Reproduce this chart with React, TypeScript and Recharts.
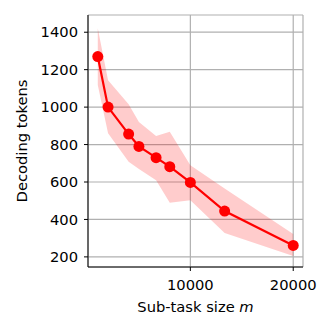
import { Area, CartesianGrid, ComposedChart, Line, XAxis, YAxis } from "recharts";

const subTaskSize = [1000, 2000, 4000, 5000, 6667, 8000, 10000, 13333, 20000];
const meanTokens = [1270, 1000, 856, 790, 730, 682, 598, 445, 261];
const lowTokens = [1118, 860, 708, 670, 610, 489, 503, 327, 205];
const highTokens = [1421, 1143, 1015, 920, 846, 868, 690, 565, 322];
const xTicks = [10000, 20000];
const yTicks = [200, 400, 600, 800, 1000, 1200, 1400];

const data = subTaskSize.map((m, i) => ({
  m,
  mean: meanTokens[i],
  band: [lowTokens[i], highTokens[i]],
}));

const font = "DejaVu Sans, sans-serif";
const tick = { fill: "#000", fontSize: 14.7, fontFamily: font };

export default function App() {
  return (
    <ComposedChart
      width={316}
      height={316}
      data={data}
      margin={{ top: 7, right: 21, left: 0, bottom: 7 }}
    >
      <CartesianGrid stroke="#b0b0b0" strokeWidth={1.2} />
      <XAxis
        dataKey="m"
        type="number"
        domain={[50, 20950]}
        ticks={xTicks}
        allowDataOverflow
        height={50}
        tick={tick}
        tickSize={4}
        tickMargin={9}
        stroke="#000"
        axisLine={{ stroke: "#000", strokeWidth: 1 }}
        tickLine={{ stroke: "#000" }}
        label={{
          content: (p: any) => {
            const vb = p.viewBox;
            return (
              <text x={vb.x + vb.width / 2} y={303.5} textAnchor="middle" fontFamily={font} fontSize={14.7} fill="#000">
                Sub-task size <tspan fontStyle="italic">m</tspan>
              </text>
            );
          },
        }}
      />
      <XAxis xAxisId="top" orientation="top" dataKey="m" type="number" domain={[50, 20950]} height={0} tick={false} tickLine={false} axisLine={{ stroke: "#000" }} />
      <YAxis
        type="number"
        domain={[146, 1492]}
        ticks={yTicks}
        allowDataOverflow
        width={80}
        tick={tick}
        tickSize={4}
        tickMargin={6}
        axisLine={{ stroke: "#000", strokeWidth: 1 }}
        tickLine={{ stroke: "#000" }}
        label={{
          content: (p: any) => {
            const vb = p.viewBox;
            const cy = vb.y + vb.height / 2;
            return (
              <text x={19} y={cy} transform={`rotate(-90 19 ${cy})`} textAnchor="middle" fontFamily={font} fontSize={14.7} fill="#000">
                Decoding tokens
              </text>
            );
          },
        }}
      />
      <YAxis yAxisId="right" orientation="right" type="number" domain={[146, 1492]} width={0} tick={false} tickLine={false} axisLine={{ stroke: "#000" }} />
      <Area
        dataKey="band"
        type="linear"
        stroke="none"
        fill="#ff0000"
        fillOpacity={0.2}
        isAnimationActive={false}
        activeDot={false}
      />
      <Line
        dataKey="mean"
        type="linear"
        stroke="#ff0000"
        strokeWidth={2.2}
        dot={{ r: 5.5, fill: "#ff0000", stroke: "#ff0000", strokeWidth: 0 }}
        activeDot={false}
        isAnimationActive={false}
      />
    </ComposedChart>
  );
}
